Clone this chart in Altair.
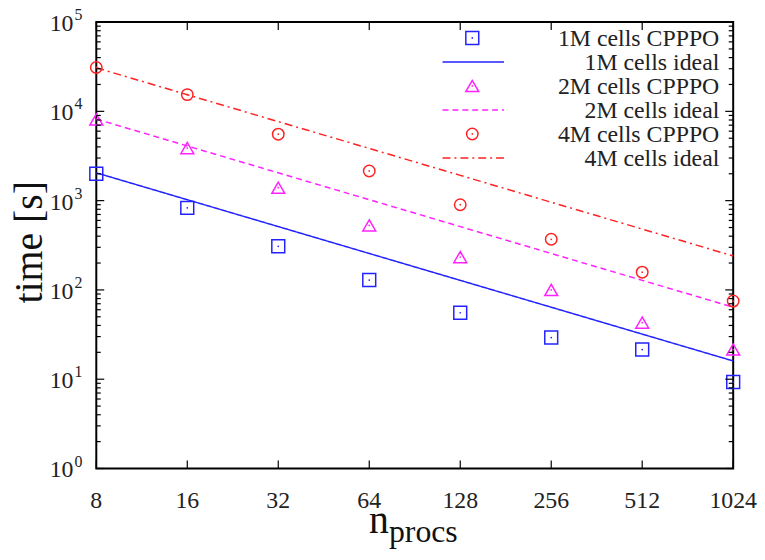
import altair as alt
import pandas as pd

# ---------------- data ----------------
nprocs = [8, 16, 32, 64, 128, 256, 512, 1024]
x_tick_labels = ["8", "16", "32", "64", "128", "256", "512", "1024"]

cpppo_1m = [2000, 830, 308, 129, 55.5, 29.3, 21.5, 9.3]
cpppo_2m = [8100, 3880, 1395, 528, 233, 100, 43, 21.5]
cpppo_4m = [31000, 15400, 5550, 2150, 900, 369, 158, 75]

ideal_1m = [2048, 1024, 512, 256, 128, 64, 32, 16]
ideal_2m = [8192, 4096, 2048, 1024, 512, 256, 128, 64]
ideal_4m = [30720, 15360, 7680, 3840, 1920, 960, 480, 240]

series_labels = ["1M cells", "2M cells", "4M cells"]
colors = ["#2222ff", "#ff22ff", "#ff2222"]
shapes = ["square", "triangle-up", "circle"]
sizes = [169, 169, 133]
dashes = [[1, 0], [6, 4], [8, 4, 2, 4]]

y_major = [1, 10, 100, 1000, 10000, 100000]
y_exps = ["0", "1", "2", "3", "4", "5"]
y_minor = [m * 10 ** d for d in range(5) for m in range(2, 10)]

FONT = "Liberation Serif"
W, H = 642, 450
TOP = 12

xscale = alt.Scale(type="log", base=2, domain=[8, 1024], nice=False)
yscale = alt.Scale(type="log", domain=[1, 100000], nice=False)

cpppo = [cpppo_1m, cpppo_2m, cpppo_4m]
ideal = [ideal_1m, ideal_2m, ideal_4m]

layers = []

# ideal lines
for i in range(3):
    df = pd.DataFrame({"n": nprocs, "t": ideal[i]})
    layers.append(
        alt.Chart(df).mark_line(color=colors[i], strokeWidth=1.5, strokeDash=dashes[i])
        .encode(x=alt.X("n:Q", scale=xscale, axis=None),
                y=alt.Y("t:Q", scale=yscale, axis=None))
    )

# CPPPO points
for i in range(3):
    df = pd.DataFrame({"n": nprocs, "t": cpppo[i]})
    layers.append(
        alt.Chart(df).mark_point(shape=shapes[i], size=sizes[i], color=colors[i],
                                 filled=False, strokeWidth=1.5, opacity=1)
        .encode(x=alt.X("n:Q", scale=xscale, axis=None),
                y=alt.Y("t:Q", scale=yscale, axis=None))
    )
    layers.append(
        alt.Chart(df).mark_circle(size=3, color=colors[i], opacity=1)
        .encode(x=alt.X("n:Q", scale=xscale, axis=None),
                y=alt.Y("t:Q", scale=yscale, axis=None))
    )

# ticks (inward, mirrored)
xt = pd.DataFrame({"n": nprocs})
layers.append(alt.Chart(xt).mark_rule(color="black", strokeWidth=1.2).encode(
    x=alt.X("n:Q", scale=xscale, axis=None), y=alt.value(H), y2=alt.value(H - 8)))
layers.append(alt.Chart(xt).mark_rule(color="black", strokeWidth=1.2).encode(
    x=alt.X("n:Q", scale=xscale, axis=None), y=alt.value(0), y2=alt.value(8)))

ymaj = pd.DataFrame({"v": y_major, "base": ["10"] * 6, "exp": y_exps})
ymin = pd.DataFrame({"v": y_minor})
for df, ln in [(ymaj, 8), (ymin, 4.5)]:
    layers.append(alt.Chart(df).mark_rule(color="black", strokeWidth=1.2).encode(
        y=alt.Y("v:Q", scale=yscale, axis=None), x=alt.value(0), x2=alt.value(ln)))
    layers.append(alt.Chart(df).mark_rule(color="black", strokeWidth=1.2).encode(
        y=alt.Y("v:Q", scale=yscale, axis=None), x=alt.value(W), x2=alt.value(W - ln)))

# y tick labels: 10^k
layers.append(alt.Chart(ymaj).mark_text(align="right", baseline="middle", fontSize=24,
                                        font=FONT, dy=2, color="#222").encode(
    y=alt.Y("v:Q", scale=yscale, axis=None), x=alt.value(-23), text="base:N"))
layers.append(alt.Chart(ymaj).mark_text(align="left", baseline="middle", fontSize=16,
                                        font=FONT, dy=-7, dx=0, color="#222").encode(
    y=alt.Y("v:Q", scale=yscale, axis=None), x=alt.value(-22), text="exp:N"))

# x tick labels
xl = pd.DataFrame({"n": nprocs, "lab": x_tick_labels})
layers.append(alt.Chart(xl).mark_text(align="center", baseline="middle", fontSize=24,
                                      font=FONT, color="#222").encode(
    x=alt.X("n:Q", scale=xscale, axis=None), y=alt.value(H + 33), text="lab:N"))

# axis titles
layers.append(alt.Chart(pd.DataFrame({"t": ["time [s]"]})).mark_text(
    align="center", baseline="middle", fontSize=40, font=FONT, angle=270, color="#111").encode(
    x=alt.value(-67), y=alt.value(222), text="t:N"))
layers.append(alt.Chart(pd.DataFrame({"t": ["n"]})).mark_text(
    align="left", baseline="alphabetic", fontSize=40, font=FONT, color="#111").encode(
    x=alt.value(275), y=alt.value(515), text="t:N"))
layers.append(alt.Chart(pd.DataFrame({"t": ["procs"]})).mark_text(
    align="left", baseline="alphabetic", fontSize=32, font=FONT, color="#111").encode(
    x=alt.value(295), y=alt.value(524), text="t:N"))

# legend (manual, gnuplot style)
row_y = [16 + 24.2 * k for k in range(6)]
for i in range(3):
    yp = row_y[2 * i]
    yl = row_y[2 * i + 1]
    one = pd.DataFrame({"lab": [series_labels[i] + " CPPPO"]})
    two = pd.DataFrame({"lab": [series_labels[i] + " ideal"]})
    layers.append(alt.Chart(one).mark_point(shape=shapes[i], size=sizes[i], color=colors[i],
                                            filled=False, strokeWidth=1.5, opacity=1).encode(
        x=alt.value(379), y=alt.value(yp)))
    layers.append(alt.Chart(one).mark_circle(size=3, color=colors[i], opacity=1).encode(
        x=alt.value(379), y=alt.value(yp)))
    layers.append(alt.Chart(one).mark_text(align="right", baseline="middle", fontSize=24,
                                           font=FONT, dy=1, color="#222").encode(
        x=alt.value(628), y=alt.value(yp), text="lab:N"))
    layers.append(alt.Chart(two).mark_rule(color=colors[i], strokeWidth=1.5,
                                           strokeDash=dashes[i]).encode(
        x=alt.value(349), x2=alt.value(411), y=alt.value(yl)))
    layers.append(alt.Chart(two).mark_text(align="right", baseline="middle", fontSize=24,
                                           font=FONT, dy=1, color="#222").encode(
        x=alt.value(628), y=alt.value(yl), text="lab:N"))

chart = alt.layer(*layers).properties(
    width=W, height=H,
    padding={"left": 89, "top": TOP, "right": 24, "bottom": 544 - TOP - H},
    autosize=alt.AutoSizeParams(type="none"),
    background="white",
).configure_view(stroke="black", strokeWidth=2)

chart.save("out.html", embed_options={"renderer": "svg", "actions": False})
